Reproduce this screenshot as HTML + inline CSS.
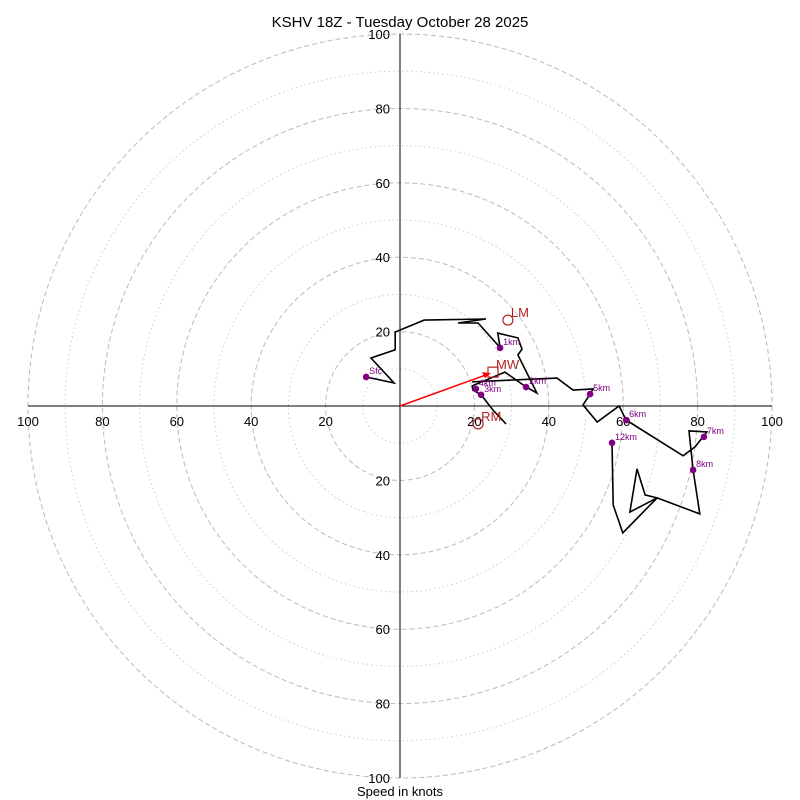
<!DOCTYPE html>
<html><head><meta charset="utf-8"><style>
body{margin:0;background:#fff;}
svg{display:block;font-family:"Liberation Sans",sans-serif;}
</style></head><body>
<svg id="chart" width="800" height="800" viewBox="0 0 800 800" xmlns="http://www.w3.org/2000/svg">
<rect width="800" height="800" fill="#fff"/>
<text x="400" y="27" text-anchor="middle" font-size="15">KSHV 18Z - Tuesday October 28 2025</text>
<text x="400" y="796" text-anchor="middle" font-size="13">Speed in knots</text>
<g id="grid"></g><g id="axes"></g><g id="series"></g><g id="marks"></g>
</svg>
<script>
const ringsDashed=[20,40,60,80,100];
const ringsDotted=[10,30,50,70,90];
const tickLabels=[20,40,60,80,100];
// hodograph wind (u,v) in knots; null = break
const hodoU=[-9.1,-1.6,-7.8,-1.3,-1.3,6.5,23.1,15.6,21.0,26.3,26.9,26.3,31.7,32.8,31.7,36.8,33.9,28.2,19.4,19.6,21.8,25.0,28.5,null,19.4,42.2,46.5,51.9,51.1,49.2,53.0,58.9,60.8,76.1,79.3,82.5,77.7,78.8,80.6,69.1,61.8,63.7,65.9,69.1,59.9,57.3,57.0];
const hodoV=[7.8,6.2,12.9,15.1,19.9,23.1,23.4,22.3,22.3,16.4,15.6,19.6,18.3,15.3,13.7,3.5,5.1,9.1,5.4,4.3,3.0,-1.1,-4.8,null,6.5,7.5,4.3,4.6,3.2,0.3,-4.3,0,-3.8,-13.4,-11.0,-7.0,-6.7,-17.2,-29.0,-24.7,-28.5,-16.9,-23.9,-24.7,-34.1,-26.6,-9.9];
const levelNames=["Sfc","1km","2km","3km","4km","5km","6km","7km","8km","12km"];
const levelU=[-9.1,26.9,33.9,21.8,20.4,51.1,60.8,81.7,78.8,57.0];
const levelV=[7.8,15.6,5.1,3.0,4.6,3.2,-3.8,-8.3,-17.2,-9.9];
const stormNames=["RM","LM","MW"];
const stormU=[21.0,29.0,25.0];
const stormV=[-4.8,23.1,9.1];

const CX=400,CY=406,K=3.72;
const sx=u=>CX+u*K, sy=v=>CY-v*K;
const NS="http://www.w3.org/2000/svg";
function mk(tag,parent,attrs){const e=document.createElementNS(NS,tag);for(const k in attrs)e.setAttribute(k,attrs[k]);parent.appendChild(e);return e;}
const grid=document.getElementById('grid'),axes=document.getElementById('axes'),ser=document.getElementById('series'),marks=document.getElementById('marks');
ringsDotted.forEach(r=>{const c=mk('circle',grid,{cx:CX,cy:CY,r:r*K,fill:'none',stroke:'#ccc','stroke-width':1,'stroke-dasharray':'1.5,3'});

});
ringsDashed.forEach(r=>{const c=mk('circle',grid,{cx:CX,cy:CY,r:r*K,fill:'none',stroke:'#bbb','stroke-width':1,'stroke-dasharray':'5,3'});

});
const xl=mk('line',axes,{x1:sx(-100),y1:CY,x2:sx(100),y2:CY,stroke:'#000','stroke-width':1});


const yl=mk('line',axes,{x1:CX,y1:sy(100),x2:CX,y2:sy(-100),stroke:'#000','stroke-width':1});


tickLabels.forEach(t=>{[-1,1].forEach(s=>{
 const a=mk('text',axes,{x:sx(s*t),y:CY+20,'text-anchor':'middle','font-size':13});a.textContent=t;
 
 
 const b=mk('text',axes,{x:CX-10,y:sy(s*t)+5,'text-anchor':'end','font-size':13});b.textContent=t;
 
 
});});
let d='',pen=false;
hodoU.forEach((u,i)=>{if(u===null){pen=false;return;}d+=(pen?'L':'M')+sx(u).toFixed(1)+','+sy(hodoV[i]).toFixed(1);pen=true;});
const hp=mk('path',ser,{d:d,fill:'none',stroke:'#000','stroke-width':1.6,'stroke-linejoin':'miter'});


levelNames.forEach((n,i)=>{
 const c=mk('circle',marks,{cx:sx(levelU[i]),cy:sy(levelV[i]),r:3.3,fill:'#800080'});
 
 
 const t=mk('text',marks,{x:sx(levelU[i])+3,y:sy(levelV[i])-3,'font-size':9,fill:'#800080'});t.textContent=n;
 
 
});
const ar=mk('line',marks,{x1:CX,y1:CY,x2:sx(stormU[2])-5,y2:sy(stormV[2])+2,stroke:'#f00','stroke-width':1.5});


const ah=mk('path',marks,{d:'M'+(sx(stormU[2])-2)+','+(sy(stormV[2])+1)+' l-9,-1 l3,6 z',fill:'#f00'});


stormNames.forEach((n,i)=>{
 const x=sx(stormU[i]),y=sy(stormV[i]);
 let m;
 if(n==='MW') m=mk('rect',marks,{x:x-5,y:y-5,width:10,height:10,fill:'none',stroke:'#b22222','stroke-width':1.2});
 else m=mk('circle',marks,{cx:x,cy:y,r:5,fill:'none',stroke:'#b22222','stroke-width':1.2});
 
 
 const t=mk('text',marks,{x:x+3,y:y-3,'font-size':13,fill:'#b22222'});t.textContent=n;
 
 
});
</script>
</body></html>
